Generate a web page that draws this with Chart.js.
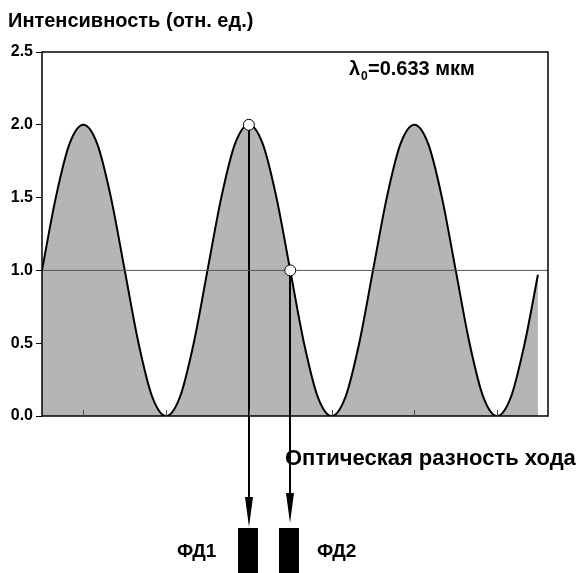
<!DOCTYPE html>
<html>
<head>
<meta charset="utf-8">
<script src="https://cdn.jsdelivr.net/npm/chart.js@4/dist/chart.umd.min.js"></script>
<style>
  html, body { margin: 0; padding: 0; background: #fff; }
  #c { display: block; }
</style>
</head>
<body>
<canvas id="c" width="578" height="573"></canvas>
<script>
// optical path difference, 12 units = one fringe period
const opdX = [0, 1, 2, 3, 4, 5, 6, 7, 8, 9, 10, 11,
              12, 13, 14, 15, 16, 17, 18, 19, 20, 21, 22, 23,
              24, 25, 26, 27, 28, 29, 30, 31, 32, 33, 34, 35, 35.96];
// intensity
const intensity = [1.0, 1.5, 1.87, 2.0, 1.87, 1.5, 1.0, 0.5, 0.13, 0.0, 0.13, 0.5,
                   1.0, 1.5, 1.87, 2.0, 1.87, 1.5, 1.0, 0.5, 0.13, 0.0, 0.13, 0.5,
                   1.0, 1.5, 1.87, 2.0, 1.87, 1.5, 1.0, 0.5, 0.13, 0.0, 0.13, 0.5, 0.97];

// photodetector sampling points
const detX = [15, 18];
const detY = [2.0, 1.0];
const detLabels = ['ФД1', 'ФД2'];

const refLevel = 1.0;
const xMax = 36.69;
const yTicks = [0, 0.5, 1.0, 1.5, 2.0, 2.5];
const xTickPos = [3, 9, 15, 21, 27, 33];

const FONT = '"Liberation Sans", Arial, sans-serif';

const curve = opdX.map((x, i) => ({ x: x, y: intensity[i] }));
const markers = detX.map((x, i) => ({ x: x, y: detY[i] }));

const overlay = {
  id: 'overlay',
  afterDatasetDraw(chart, args) {
    // arrows go over the fill but under the markers
    if (args.index !== 0) return;
    const ctx = chart.ctx;
    const xs = chart.scales.x, ys = chart.scales.y;
    const tips = [527, 523];
    ctx.save();
    ctx.strokeStyle = '#000';
    ctx.fillStyle = '#000';
    ctx.lineWidth = 2;
    detX.forEach((x, i) => {
      const px = Math.round(xs.getPixelForValue(x));
      const py = ys.getPixelForValue(detY[i]);
      const tip = tips[i];
      ctx.beginPath();
      ctx.moveTo(px, py);
      ctx.lineTo(px, tip - 20);
      ctx.stroke();
      ctx.beginPath();
      ctx.moveTo(px, tip);
      ctx.lineTo(px - 4, tip - 30);
      ctx.lineTo(px + 4, tip - 30);
      ctx.closePath();
      ctx.fill();
    });
    ctx.restore();
  },
  afterDraw(chart) {
    const ctx = chart.ctx;
    const a = chart.chartArea;
    const xs = chart.scales.x;
    ctx.save();
    // frame
    ctx.strokeStyle = '#000';
    ctx.lineWidth = 1.5;
    ctx.strokeRect(a.left, a.top, a.right - a.left, a.bottom - a.top);
    // small inward ticks on the bottom axis
    ctx.lineWidth = 1;
    ctx.strokeStyle = '#444';
    xTickPos.forEach(v => {
      const px = Math.round(xs.getPixelForValue(v)) + 0.5;
      ctx.beginPath();
      ctx.moveTo(px, a.bottom);
      ctx.lineTo(px, a.bottom - 6);
      ctx.stroke();
    });

    ctx.fillStyle = '#000';
    ctx.textBaseline = 'alphabetic';
    ctx.textAlign = 'left';
    ctx.font = 'bold 20px ' + FONT;
    ctx.fillText('Интенсивность (отн. ед.)', 8, 27);
    ctx.font = 'bold 22px ' + FONT;
    ctx.fillText('Оптическая разность хода', 285, 465);

    // wavelength
    ctx.font = 'bold 20px ' + FONT;
    ctx.fillText('λ', 349, 75);
    ctx.font = 'bold 12px ' + FONT;
    ctx.fillText('0', 361, 80);
    ctx.font = 'bold 20px ' + FONT;
    ctx.fillText('=0.633 мкм', 368, 75);

    // photodetectors
    const rects = [[238, 528, 20, 45], [279, 528, 20, 45]];
    rects.forEach(r => ctx.fillRect(r[0], r[1], r[2], r[3]));
    ctx.font = 'bold 19px ' + FONT;
    ctx.fillText(detLabels[0], 177, 557);
    ctx.fillText(detLabels[1], 317, 557);
    ctx.restore();
  }
};

new Chart(document.getElementById('c'), {
  type: 'line',
  data: {
    datasets: [
      {
        label: 'intensity',
        data: curve,
        borderColor: '#000',
        borderWidth: 2,
        backgroundColor: '#b5b5b5',
        fill: 'origin',
        pointRadius: 0,
        cubicInterpolationMode: 'monotone',
        order: 3
      },
      {
        label: 'level',
        data: [{ x: 0, y: refLevel }, { x: xMax, y: refLevel }],
        borderColor: '#555',
        borderWidth: 1,
        pointRadius: 0,
        fill: false,
        order: 2
      },
      {
        label: 'detectors',
        data: markers,
        showLine: false,
        pointRadius: 5.5,
        pointBackgroundColor: '#fff',
        pointBorderColor: '#000',
        pointBorderWidth: 1,
        order: 1
      }
    ]
  },
  options: {
    responsive: false,
    animation: false,
    layout: { padding: { left: 0, top: 52, right: 30, bottom: 157 } },
    plugins: {
      legend: { display: false },
      tooltip: { enabled: false }
    },
    scales: {
      x: {
        type: 'linear',
        min: 0,
        max: xMax,
        display: false
      },
      y: {
        min: 0,
        max: 2.5,
        afterFit(scale) { scale.width = 42; },
        afterBuildTicks(scale) { scale.ticks = yTicks.map(v => ({ value: v })); },
        border: { display: false },
        grid: { drawOnChartArea: false, drawTicks: true, tickLength: 6, color: '#000' },
        ticks: {
          padding: 3,
          color: '#000',
          font: { family: FONT, size: 16, weight: 'bold' },
          callback: v => v.toFixed(1)
        }
      }
    }
  },
  plugins: [overlay]
});
</script>
</body>
</html>
